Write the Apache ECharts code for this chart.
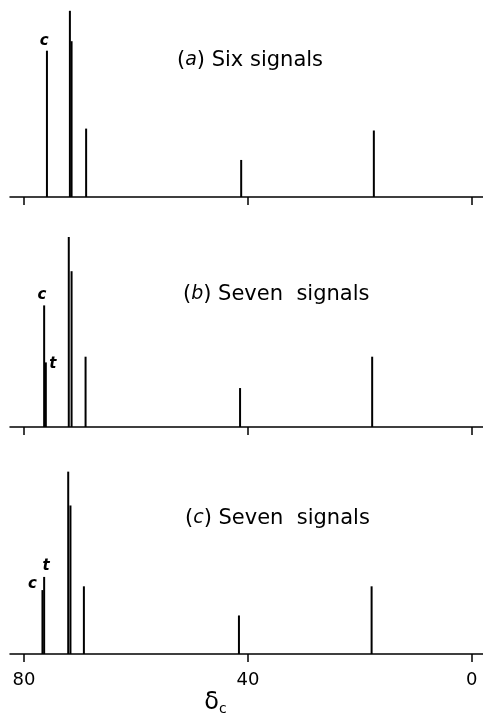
<!DOCTYPE html>
<html>
<head>
<meta charset="utf-8">
<script src="https://cdn.jsdelivr.net/npm/echarts@6/dist/echarts.min.js"></script>
<style>html,body{margin:0;padding:0;background:#fff}#c{width:483px;height:717px}</style>
</head>
<body>
<div id="c"></div>
<script>
// chemical shifts (delta C, ppm) and relative intensities
const shiftsA = [75.9, 71.8, 71.5, 68.9, 41.2, 17.5];
const intensA = [77, 98, 82, 36, 19.5, 35];
const labelsA = ['c', '', '', '', '', ''];

const shiftsB = [76.4, 76.1, 72.0, 71.5, 69.0, 41.4, 17.8];
const intensB = [64, 34, 100, 82, 37, 20.5, 37];
const labelsB = ['c', 't', '', '', '', '', ''];

const shiftsC = [76.7, 76.4, 72.1, 71.7, 69.3, 41.6, 17.9];
const intensC = [34, 41, 97, 79, 36, 20.5, 36];
const labelsC = ['c', 't', '', '', '', '', ''];

const titles = ['({i|a}) Six signals', '({i|b}) Seven  signals', '({i|c}) Seven  signals'];
const tickValues = [0, 40, 80];

// label placement (style only)
const labelPos = [
  {c: [-1.7, -10]},
  {c: [-1.3, -10], t: [8, 2]},
  {c: [-9, -6], t: [3, -11]}
];

const FONT = '"DejaVu Sans", sans-serif';
const panels = [
  {s: shiftsA, v: intensA, l: labelsA, top: 7,   titleTop: 50},
  {s: shiftsB, v: intensB, l: labelsB, top: 237, titleTop: 284},
  {s: shiftsC, v: intensC, l: labelsC, top: 466, titleTop: 508}
];
const titleLeft = [177, 183, 185];

const grid = [], xAxis = [], yAxis = [], series = [], title = [];
panels.forEach((p, i) => {
  grid.push({left: 10, right: 0, top: p.top, height: 190});
  const last = i === 2;
  xAxis.push({
    type: 'value', gridIndex: i, inverse: true, min: -2, max: 82.5,
    splitLine: {show: false},
    axisLine: {lineStyle: {color: '#000', width: 1.5}},
    axisTick: {show: true, customValues: tickValues, length: 8, lineStyle: {color: '#000', width: 1.5}},
    axisLabel: {show: last, customValues: tickValues, color: '#000', fontSize: 18, fontFamily: FONT, margin: 17},
    name: last ? '{d|δ}{s|c}' : '',
    nameLocation: 'middle', nameGap: 36,
    nameTextStyle: {
      padding: [0, 62, 0, 0],
      rich: {
        d: {fontSize: 24, fontFamily: FONT, color: '#000'},
        s: {fontSize: 14, fontFamily: FONT, color: '#000', verticalAlign: 'bottom', padding: [12, 0, 0, 0]}
      }
    }
  });
  yAxis.push({type: 'value', gridIndex: i, min: 0, max: 100, show: false});
  series.push({
    type: 'bar', xAxisIndex: i, yAxisIndex: i, barWidth: 2,
    itemStyle: {color: '#000'},
    silent: true, animation: false,
    data: p.s.map((x, k) => {
      const item = {value: [x, p.v[k]]};
      const lab = p.l[k];
      if (lab) {
        item.label = {
          show: true, formatter: lab, position: labelPos[i][lab],
          align: 'center', verticalAlign: 'middle',
          fontSize: 15, fontStyle: 'italic', fontWeight: 'bold', fontFamily: FONT, color: '#000'
        };
      }
      return item;
    })
  });
  title.push({
    text: titles[i], left: titleLeft[i], top: p.titleTop, padding: 0,
    textStyle: {
      fontSize: 21, fontWeight: 'normal', fontFamily: FONT, color: '#000',
      rich: {i: {fontSize: 19, fontStyle: 'italic', fontFamily: FONT, color: '#000'}}
    }
  });
});

const chart = echarts.init(document.getElementById('c'), null, {renderer: 'canvas'});
chart.setOption({backgroundColor: '#fff', animation: false, title, grid, xAxis, yAxis, series});
</script>
</body>
</html>
